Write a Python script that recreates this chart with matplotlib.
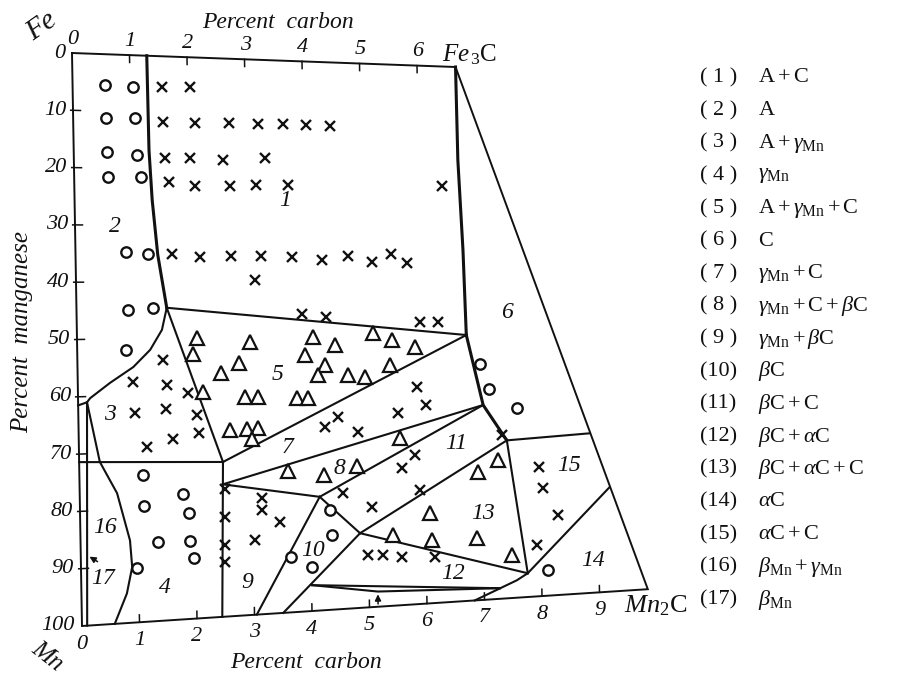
import numpy as np
import matplotlib
matplotlib.use("Agg")
import matplotlib.pyplot as plt
import matplotlib.transforms as mtransforms

plt.rcParams['font.family'] = ['Liberation Serif', 'DejaVu Serif']
plt.rcParams['mathtext.fontset'] = 'custom'
plt.rcParams['mathtext.rm'] = 'Liberation Serif'
plt.rcParams['mathtext.it'] = 'Liberation Serif:italic'
plt.rcParams['mathtext.bf'] = 'Liberation Serif:bold'

# ---------------------------------------------------------------------------
# Fe - Mn - C section: compositions as (percent carbon, percent manganese)
# ---------------------------------------------------------------------------
corners_c = [0.0, 6.67, 9.84, 0.0, 0.0]
corners_mn = [0.0, 0.0, 100.0, 100.0, 0.0]

# phase boundaries (carbon %, manganese %)
b_2_1 = ([1.30, 1.31, 1.35, 1.43, 1.57], [0.0, 16.7, 25.5, 35.2, 44.6])
b_1_6 = ([6.67, 6.68, 6.74, 6.77], [0.0, 17.4, 34.3, 50.2])
b_carbide = ([6.77, 7.04, 7.44], [50.2, 63.4, 70.2])
b_1_5 = ([1.57, 6.77], [44.6, 50.2])
b_2_3 = ([1.57, 1.48, 1.27, 0.97, 0.56, 0.21, 0.155, 0.0],
         [44.6, 48.5, 52.0, 55.0, 57.7, 60.3, 61.0, 61.5])
b_3_5 = ([1.57, 2.50], [44.6, 72.3])
b_5_7 = ([2.50, 6.77], [72.3, 50.2])
b_6_15 = ([7.44, 8.88], [70.2, 69.4])
b_13_15 = ([7.44, 7.76], [70.2, 95.5])
b_14_15 = ([7.76, 9.21], [95.5, 79.9])
b_12_14 = ([7.76, 7.57, 6.83], [95.5, 96.7, 100.0])
b_7_8 = ([2.49, 7.04], [76.3, 63.4])
b_8_11 = ([4.17, 7.04], [79.3, 63.4])
b_8_9 = ([2.49, 4.17], [76.3, 79.3])
b_9_10 = ([4.17, 3.04], [79.3, 100.0])
b_10_11 = ([4.17, 4.86], [79.3, 86.3])
b_10_12 = ([4.86, 3.50], [86.3, 100.0])
b_11_13 = ([4.86, 7.44], [86.3, 70.2])
b_12_13 = ([4.86, 7.76], [86.3, 95.5])
b_3_4 = ([0.0, 2.50], [71.4, 72.3])
b_4_9 = ([2.50, 2.44], [72.3, 100.0])
b_17 = ([0.155, 0.09], [61.0, 100.0])
b_3_16 = ([0.155, 0.36], [61.0, 71.5])
b_16_4 = ([0.36, 0.65, 0.86, 0.89, 0.79, 0.57], [71.5, 77.1, 85.5, 90.2, 94.8, 100.0])
lens_upper = ([4.01, 7.27], [95.3, 98.0])
lens_lower = ([4.01, 5.15, 7.27], [95.3, 97.2, 98.0])

thick_lines = [b_2_1, b_1_6, b_carbide]
thin_lines = [b_1_5, b_2_3, b_3_5, b_5_7, b_6_15, b_13_15, b_14_15, b_12_14,
              b_7_8, b_8_11, b_8_9, b_9_10, b_10_11, b_10_12, b_11_13, b_12_13,
              b_3_4, b_4_9, b_17, b_3_16, b_16_4, lens_upper, lens_lower]

# experimental alloys: single phase (o), two phase (x), three phase (triangle)
circle_c = [0.56, 1.05, 0.57, 1.08, 0.58, 1.10, 0.59, 1.16, 0.88, 1.26, 0.90, 1.33,
            0.85, 1.11, 1.11, 1.35, 1.80, 1.89, 1.90, 1.97, 0.97, 7.00, 7.15, 7.63,
            4.35, 4.37, 3.65, 4.01, 8.11]
circle_mn = [5.4, 5.6, 11.2, 11.1, 17.2, 17.6, 21.6, 21.5, 34.7, 35.1, 44.9, 44.6,
             52.0, 74.1, 79.6, 86.1, 77.8, 81.2, 86.2, 89.2, 90.5, 55.7, 60.4, 64.2,
             81.8, 86.4, 90.0, 92.0, 95.2]

cross_c = [1.56, 2.04,
           1.56, 2.12, 2.71, 3.21, 3.65, 4.05, 4.47,
           1.59, 2.02, 2.59, 3.33,
           1.65, 2.10, 2.71, 3.16, 3.72, 6.40,
           1.68, 2.16, 2.70, 3.23, 3.76, 4.29, 4.74, 5.15, 5.49, 5.76,
           3.11,
           3.92, 4.34, 5.97, 6.28,
           1.49, 0.96, 1.55, 1.91, 0.99, 1.53, 2.06, 2.09, 1.64, 1.18,
           2.52, 2.52, 2.51, 2.50,
           3.17, 3.16, 3.47, 3.03,
           5.90, 6.05, 5.56, 4.51, 4.28, 4.86,
           5.84, 5.61, 4.58,
           5.08, 5.92, 4.99, 5.25, 5.58, 6.15,
           7.99, 8.05, 8.30, 7.93, 7.36]
cross_mn = [5.5, 5.3,
            11.7, 11.7, 11.6, 11.6, 11.5, 11.6, 11.7,
            18.0, 18.0, 18.2, 17.7,
            22.3, 22.9, 22.9, 22.6, 22.5, 22.3,
            35.1, 35.6, 35.4, 35.4, 35.6, 36.1, 35.4, 36.5, 35.0, 36.7,
            39.7,
            46.0, 46.5, 47.7, 47.7,
            53.9, 57.6, 58.3, 59.8, 63.1, 62.5, 63.8, 67.0, 67.9, 69.2,
            77.2, 82.2, 87.2, 90.3,
            79.1, 81.2, 83.6, 86.6,
            59.7, 63.1, 64.5, 64.9, 66.6, 67.7,
            72.3, 74.7, 78.8,
            81.6, 78.9, 90.4, 90.6, 91.1, 91.5,
            75.5, 79.5, 84.8, 90.3, 69.2]

tri_c = [2.09, 2.01, 2.81, 2.49, 3.01, 2.17, 2.90, 3.13, 2.63, 2.93, 3.12, 3.01,
         4.10, 4.48, 3.96, 4.30, 4.18, 4.70, 5.00, 5.15, 5.48, 5.87, 5.43, 3.81, 4.00,
         5.58, 3.63, 4.25, 4.83,
         6.93, 7.28, 6.08, 5.43, 6.11, 6.89, 7.49]
tri_mn = [50.0, 52.9, 54.6, 56.4, 50.9, 59.7, 60.8, 60.8, 66.6, 66.5, 66.4, 68.4,
          50.2, 51.7, 53.4, 55.3, 57.1, 57.2, 57.7, 49.6, 50.9, 52.3, 55.5, 61.2, 61.3,
          69.1, 74.4, 75.4, 74.0,
          76.0, 73.9, 83.2, 87.0, 88.3, 88.4, 91.9]

# field numbers
field_num = ["1", "2", "3", "4", "5", "6", "7", "8", "9", "10", "11", "12", "13",
             "14", "15", "16", "17"]
field_c = [3.66, 0.70, 0.55, 1.45, 3.48, 7.49, 3.63, 4.53, 2.88, 4.04, 6.56, 6.46,
           7.00, 8.90, 8.51, 0.43, 0.38]
field_mn = [25.3, 30.3, 63.3, 94.1, 56.9, 46.0, 70.2, 74.2, 94.1, 89.0, 70.4, 94.7,
            83.7, 93.8, 75.5, 83.1, 91.9]

phase_names = [
    r"$\mathrm{A}+\mathrm{C}$",
    r"$\mathrm{A}$",
    r"$\mathrm{A}+\gamma_{\mathrm{Mn}}$",
    r"$\gamma_{\mathrm{Mn}}$",
    r"$\mathrm{A}+\gamma_{\mathrm{Mn}}+\mathrm{C}$",
    r"$\mathrm{C}$",
    r"$\gamma_{\mathrm{Mn}}+\mathrm{C}$",
    r"$\gamma_{\mathrm{Mn}}+\mathrm{C}+\beta\mathrm{C}$",
    r"$\gamma_{\mathrm{Mn}}+\beta\mathrm{C}$",
    r"$\beta\mathrm{C}$",
    r"$\beta\mathrm{C}+\mathrm{C}$",
    r"$\beta\mathrm{C}+\alpha\mathrm{C}$",
    r"$\beta\mathrm{C}+\alpha\mathrm{C}+\mathrm{C}$",
    r"$\alpha\mathrm{C}$",
    r"$\alpha\mathrm{C}+\mathrm{C}$",
    r"$\beta_{\mathrm{Mn}}+\gamma_{\mathrm{Mn}}$",
    r"$\beta_{\mathrm{Mn}}$",
]

top_ticks = [0, 1, 2, 3, 4, 5, 6]
bottom_ticks = [0, 1, 2, 3, 4, 5, 6, 7, 8, 9]
left_ticks = [0, 10, 20, 30, 40, 50, 60, 70, 80, 90, 100]


class CompositionTransform(mtransforms.Transform):
    """Maps (carbon %, manganese %) onto the skewed drawing plane."""
    input_dims = 2
    output_dims = 2
    is_separable = False
    has_inverse = False

    def transform_non_affine(self, values):
        v = np.asarray(values, dtype=float).reshape(-1, 2)
        c = v[:, 0]
        m = v[:, 1] / 100.0
        x = 72.0 + 10.0 * m + 57.5 * c
        y = 53.0 + 573.0 * m + 2.1 * c - 5.84 * m * c
        return np.column_stack([x, y])


W, H = 913, 680
fig = plt.figure(figsize=(W / 100, H / 100), dpi=100)
ax = fig.add_axes([0, 0, 1, 1])
ax.set_xlim(0, W)
ax.set_ylim(H, 0)
ax.axis('off')
diag = CompositionTransform() + ax.transData

ink = '#111111'
ax.plot(corners_c, corners_mn, color=ink, lw=1.4, transform=diag,
        solid_joinstyle='miter')
for cs, ms in thick_lines:
    ax.plot(cs, ms, color=ink, lw=2.2, transform=diag)
for cs, ms in thin_lines:
    ax.plot(cs, ms, color=ink, lw=1.5, transform=diag)

# tick marks
for c in top_ticks[1:]:
    ax.plot([c, c], [0, 1.3], color=ink, lw=1.1, transform=diag)
for c in bottom_ticks[1:]:
    ax.plot([c, c], [100, 98.7], color=ink, lw=1.1, transform=diag)
for mn in left_ticks[1:-1]:
    ax.plot([-0.04, 0.13], [mn, mn], color=ink, lw=1.1, transform=diag)

# arrows to the narrow fields
ax.annotate("", xy=(0.11, 87.7), xycoords=diag, xytext=(0.33, 89.2), textcoords=diag,
            arrowprops=dict(arrowstyle='-|>', color=ink, lw=1.1, mutation_scale=9))
ax.annotate("", xy=(5.15, 97.2), xycoords=diag, xytext=(5.15, 100.0), textcoords=diag,
            arrowprops=dict(arrowstyle='-|>', color=ink, lw=1.1, mutation_scale=9))

# alloy points
ax.plot(circle_c, circle_mn, 'o', ms=7.5, mfc='white', mec=ink, mew=1.7,
        transform=diag, zorder=4)
ax.plot(cross_c, cross_mn, 'x', ms=7.5, mec=ink, mew=1.7, transform=diag, zorder=4)
ax.plot(tri_c, tri_mn, '^', ms=9.5, mfc='white', mec=ink, mew=1.6,
        transform=diag, zorder=4)

ital = dict(family='Liberation Serif', style='italic', color=ink)

for t, c, mn in zip(field_num, field_c, field_mn):
    ax.text(c, mn, t, transform=diag, ha='center', va='center', fontsize=17,
            zorder=5, **ital)

# scale numbers
for c in top_ticks:
    ax.annotate(str(c), xy=(c, 0), xycoords=diag, xytext=(0.5, 10),
                textcoords='offset points', ha='center', va='center',
                fontsize=16, **ital)
for c in bottom_ticks:
    ax.annotate(str(c), xy=(c, 100), xycoords=diag, xytext=(0, -13),
                textcoords='offset points', ha='center', va='center',
                fontsize=16, **ital)
for mn in left_ticks:
    ax.annotate(str(mn), xy=(0, mn), xycoords=diag, xytext=(-5, 0),
                textcoords='offset points', ha='right', va='center',
                fontsize=16, **ital)

ax.text(278, 23, "Percent  carbon", ha='center', va='center', fontsize=17, **ital)
ax.text(306, 663, "Percent  carbon", ha='center', va='center', fontsize=17, **ital)
ax.text(22, 332, "Percent  manganese", ha='center', va='center', rotation=90,
        fontsize=18, **ital)
ax.text(42, 26, "Fe", ha='center', va='center', rotation=35, fontsize=21, **ital)
ax.text(47, 657, "Mn", ha='center', va='center', rotation=-38, fontsize=18, **ital)
ax.text(442, 55, r"$\mathit{Fe}_{\,3}\mathrm{C}$", ha='left', va='center', fontsize=18,
        color=ink)
ax.text(624, 606, r"$\mathit{Mn}_{2}\mathrm{C}$", ha='left', va='center', fontsize=19,
        color=ink)

# key to the fields
for i, name in enumerate(phase_names):
    y = 78 + i * 32.6
    n = i + 1
    num = f"({n})" if n >= 10 else f"( {n} )"
    ax.text(700, y, num, ha='left', va='center', fontsize=16, color=ink,
            family='Liberation Serif')
    ax.text(758, y, name, ha='left', va='center', fontsize=16, color=ink)

fig.savefig("out.png", dpi=100, facecolor='white')
